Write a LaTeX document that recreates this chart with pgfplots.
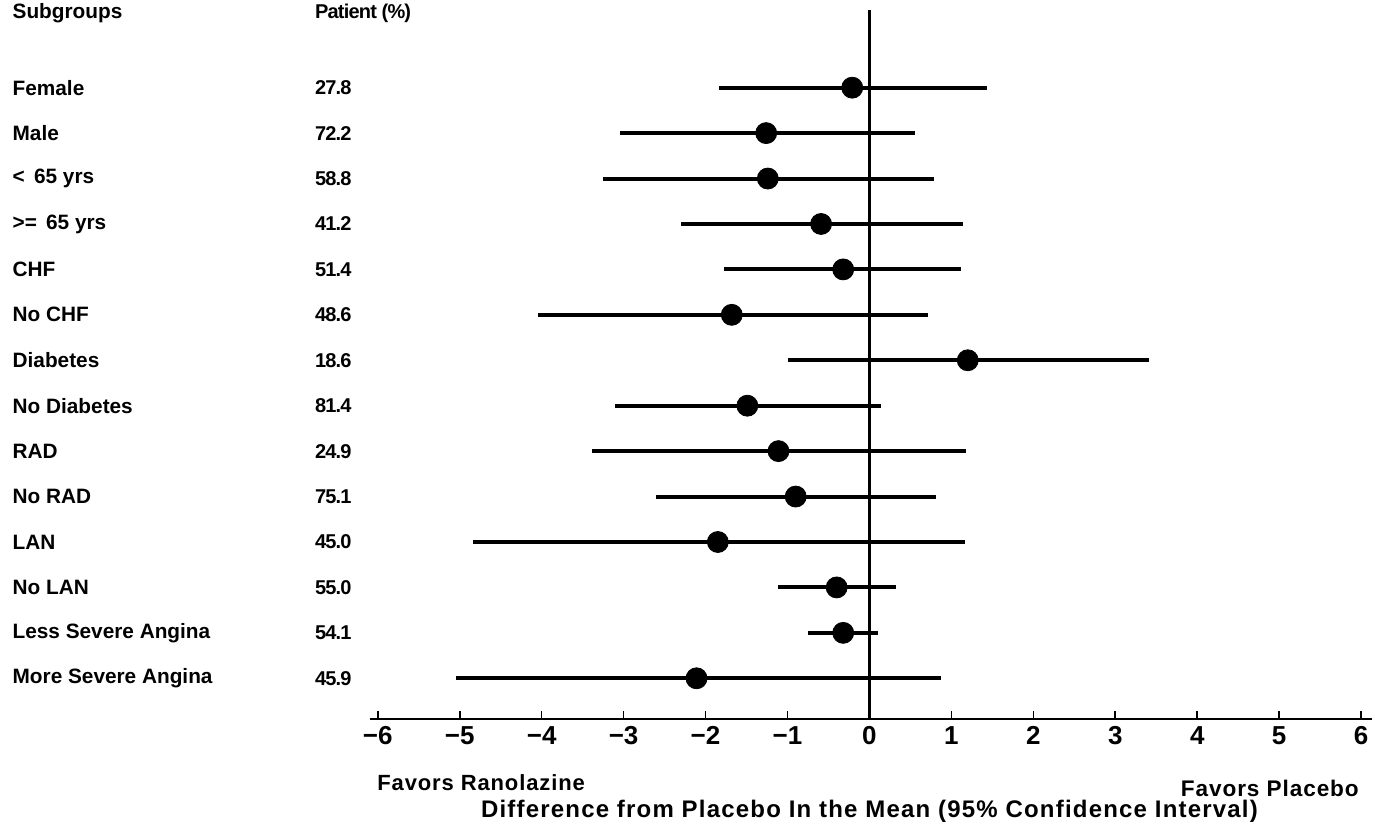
\documentclass[border=0pt]{standalone}
\usepackage{fontspec}
\setmainfont{Liberation Sans}
\newfontfamily\lab{Liberation Sans}[LetterSpace=4]
\newfontfamily\ttl{Liberation Sans}[LetterSpace=5]
\newfontfamily\cond{Liberation Sans}[LetterSpace=-4]
\usepackage{pgfplots}
\pgfplotsset{compat=1.18}
\usepackage{pgfplotstable}

\pgfplotstableread{
y est lo hi
14 -0.21 -1.84 1.43
13 -1.26 -3.04 0.56
12 -1.24 -3.25 0.79
11 -0.59 -2.30 1.14
10 -0.32 -1.77 1.12
9 -1.68 -4.05 0.71
8 1.20 -0.99 3.41
7 -1.49 -3.11 0.14
6 -1.11 -3.38 1.18
5 -0.90 -2.60 0.81
4 -1.85 -4.84 1.17
3 -0.40 -1.11 0.32
2 -0.32 -0.75 0.10
1 -2.11 -5.05 0.87
}\cidata

\begin{document}
\begin{tikzpicture}[
  lbl/.style={anchor=west, inner sep=0pt, font=\fontsize{10.4}{12}\selectfont\bfseries},
  pct/.style={anchor=west, inner sep=0pt, font=\cond\fontsize{10}{11}\selectfont\bfseries}]
\begin{axis}[
  scale only axis, width=501.4pt, height=359.8pt,
  xmin=-6.1, xmax=6.13, ymin=0.1, ymax=15.93,
  axis x line=bottom, axis y line=none,
  axis line style={line width=1pt, -},
  xtick={-6,-5,-4,-3,-2,-1,0,1,2,3,4,5,6},
  xticklabels={−6,−5,−4,−3,−2,−1,0,1,2,3,4,5,6},
  xticklabel style={font=\fontsize{13}{15}\selectfont\bfseries},
  tick align=inside, major tick length=4pt,
  tick style={black, line width=0.8pt},
  clip=false,
]
\path (axis cs:-10.61,-2.386) rectangle (axis cs:6.159,15.93);
\addplot[line width=1.1pt, black] coordinates {(0,0.1) (0,15.7)};
\addplot[only marks, mark=*, mark size=5.25pt, black,
  error bars/.cd, x dir=both, x explicit, error mark=none,
  error bar style={line width=2pt, black}]
  table[x=est, y=y,
    x error plus expr=\thisrow{hi}-\thisrow{est},
    x error minus expr=\thisrow{est}-\thisrow{lo}] {\cidata};

\node[lbl] at (axis cs:-10.46,15.63) {Subgroups};
\node[pct] at (axis cs:-6.77,15.63) {Patient (\%)};

\node[lbl] at (axis cs:-10.46,14) {Female};
\node[lbl] at (axis cs:-10.46,13) {Male};
\node[lbl] at (axis cs:-10.46,12) {< \,65 yrs};
\node[lbl] at (axis cs:-10.46,11) {>= \,65 yrs};
\node[lbl] at (axis cs:-10.46,10) {CHF};
\node[lbl] at (axis cs:-10.46,9) {No CHF};
\node[lbl] at (axis cs:-10.46,8) {Diabetes};
\node[lbl] at (axis cs:-10.46,7) {No Diabetes};
\node[lbl] at (axis cs:-10.46,6) {RAD};
\node[lbl] at (axis cs:-10.46,5) {No RAD};
\node[lbl] at (axis cs:-10.46,4) {LAN};
\node[lbl] at (axis cs:-10.46,3) {No LAN};
\node[lbl] at (axis cs:-10.46,2) {Less Severe Angina};
\node[lbl] at (axis cs:-10.46,1) {More Severe Angina};

\node[pct] at (axis cs:-6.77,14) {27.8};
\node[pct] at (axis cs:-6.77,13) {72.2};
\node[pct] at (axis cs:-6.77,12) {58.8};
\node[pct] at (axis cs:-6.77,11) {41.2};
\node[pct] at (axis cs:-6.77,10) {51.4};
\node[pct] at (axis cs:-6.77,9) {48.6};
\node[pct] at (axis cs:-6.77,8) {18.6};
\node[pct] at (axis cs:-6.77,7) {81.4};
\node[pct] at (axis cs:-6.77,6) {24.9};
\node[pct] at (axis cs:-6.77,5) {75.1};
\node[pct] at (axis cs:-6.77,4) {45.0};
\node[pct] at (axis cs:-6.77,3) {55.0};
\node[pct] at (axis cs:-6.77,2) {54.1};
\node[pct] at (axis cs:-6.77,1) {45.9};

\node[anchor=west, inner sep=0pt, font=\lab\fontsize{11}{13}\selectfont\bfseries] at (axis cs:-6.01,-1.286) {Favors Ranolazine};
\node[anchor=east, inner sep=0pt, font=\lab\fontsize{11.3}{13}\selectfont\bfseries] at (axis cs:5.976,-1.418) {Favors Placebo};
\node[anchor=center, inner sep=0pt, font=\ttl\fontsize{12}{14}\selectfont\bfseries] at (axis cs:0.0,-1.924) {Difference from Placebo In the Mean (95\% Confidence Interval)};
\end{axis}
\end{tikzpicture}
\end{document}
